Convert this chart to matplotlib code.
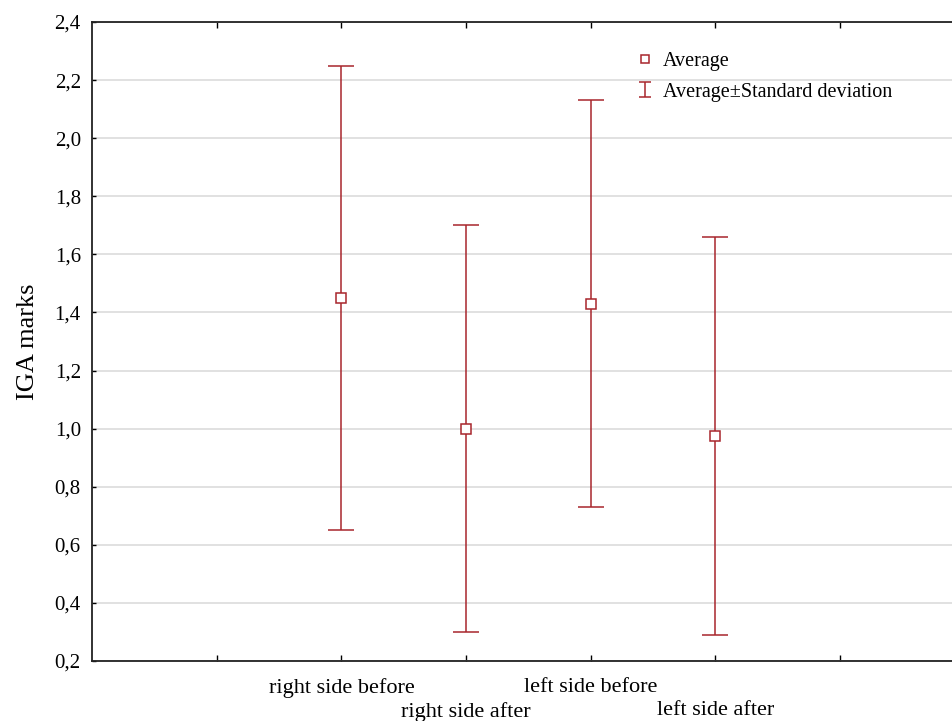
import matplotlib
matplotlib.use("Agg")
from matplotlib import pyplot as plt
from matplotlib.ticker import FuncFormatter
from matplotlib.legend_handler import HandlerErrorbar

# values
groups = ['right side before', 'right side after', 'left side before', 'left side after']
means = [1.45, 1.0, 1.43, 0.975]
std_devs = [0.80, 0.70, 0.70, 0.685]
x_pos = [2, 3, 4, 5]
y_ticks = [0.2, 0.4, 0.6, 0.8, 1.0, 1.2, 1.4, 1.6, 1.8, 2.0, 2.2, 2.4]

red = '#a8262c'
plt.rcParams['font.family'] = ['Liberation Serif', 'DejaVu Serif']

fig = plt.figure(figsize=(9.53, 7.21), dpi=100)
ax = fig.add_axes([0.0965, 0.0832, 0.916, 0.8863])

ax.errorbar(x_pos, means, yerr=std_devs, fmt='none', ecolor=red,
            elinewidth=1.1, capsize=9.5, capthick=1.1)
pts, = ax.plot(x_pos, means, linestyle='none', marker='s', markersize=7,
               markerfacecolor='white', markeredgecolor=red, markeredgewidth=1.1)

# narrow "I" shape for the legend, drawn outside the view
err_proxy = ax.errorbar([-10], [1.0], yerr=[0.1], fmt='none', ecolor=red,
                        elinewidth=1.1, capsize=4.3, capthick=1.1)

ax.set_ylim(0.2, 2.4)
ax.set_xlim(0, 7)
ax.set_yticks(y_ticks)
ax.yaxis.set_major_formatter(FuncFormatter(lambda v, _: ("%.1f" % v).replace('.', ',')))
ax.grid(axis='y', color='#dcdcdc', linewidth=1.2)
ax.set_axisbelow(True)

# ticks at 1..6, staggered labels for groups
ax.set_xticks([1, 2, 3, 4, 5, 6])
labels = ['']
for i, g in enumerate(groups):
    labels.append(g if i % 2 == 0 else '\n' + g)
labels.append('')
ax.set_xticklabels(labels, fontsize=16, linespacing=1.33)
ax.tick_params(axis='x', direction='in', top=True, length=4, pad=12, width=1)
ax.tick_params(axis='y', direction='in', length=3, labelsize=15, pad=8, width=1)

for s in ['left', 'bottom', 'top']:
    ax.spines[s].set_linewidth(1.3)
    ax.spines[s].set_color('#222222')
ax.spines['right'].set_visible(False)

ax.set_ylabel('IGA marks', fontsize=19, labelpad=11)

ax.legend([pts, err_proxy], ['Average', 'Average\u00b1Standard deviation'],
          loc='upper left', bbox_to_anchor=(0.603, 0.981), frameon=False,
          fontsize=14.5, handlelength=0.8, handletextpad=0.5, labelspacing=0.55,
          markerscale=0.75, handler_map={type(err_proxy): HandlerErrorbar(yerr_size=0.38)})

fig.savefig('out.png', dpi=100)
